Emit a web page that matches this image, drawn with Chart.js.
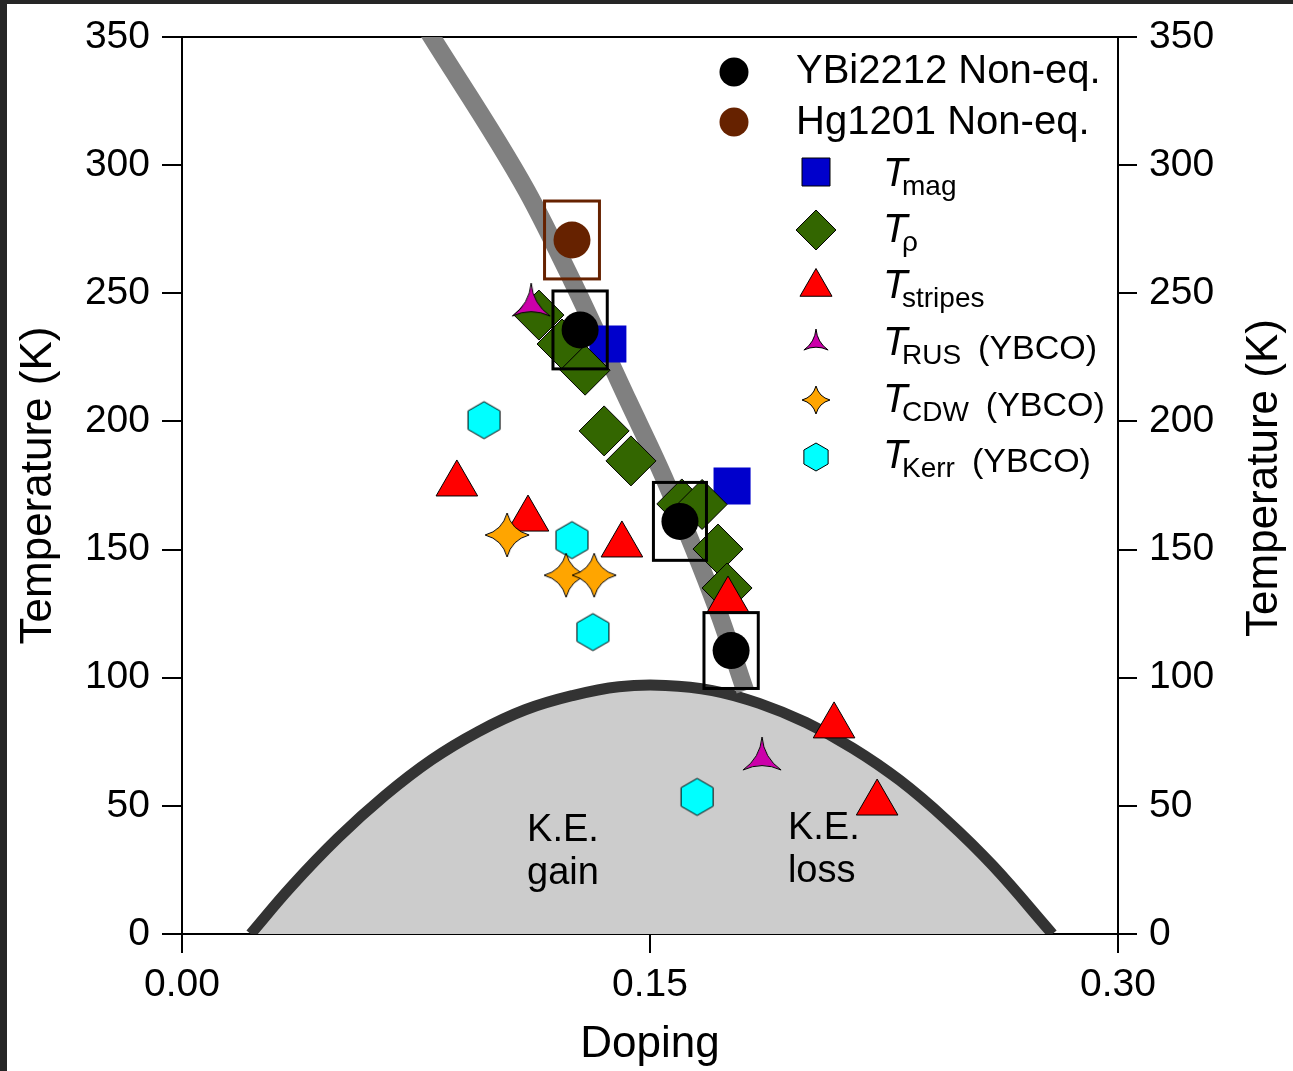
<!DOCTYPE html>
<html>
<head>
<meta charset="utf-8">
<script src="https://cdn.jsdelivr.net/npm/chart.js@4.4.1/dist/chart.umd.min.js"></script>
<style>
  html, body { margin: 0; padding: 0; background: #fff; }
  #wrap { position: relative; width: 1293px; height: 1071px; }
</style>
</head>
<body>
<div id="wrap"><canvas id="phase" width="1293" height="1071"></canvas></div>
<script>
// Phase diagram: characteristic temperatures vs doping, drawn with Chart.js.

// --- values ---
var ybiDoping = [0.1276, 0.1596, 0.1760];
var ybiTemp = [235.7, 161.0, 110.6];
var ybiDopErr = [0.0087, 0.0085, 0.0087];
var ybiTempErr = [15.2, 15.2, 14.8];

var hgDoping = [0.1250];
var hgTemp = [270.8];
var hgDopErr = [0.0088];
var hgTempErr = [15.2];

var magDoping = [0.1365, 0.1763];
var magTemp = [230.2, 174.8];

var rhoDoping = [0.1144, 0.1218, 0.1292, 0.1353, 0.1439, 0.1602, 0.1667, 0.1718, 0.1747];
var rhoTemp = [241.5, 230.2, 220.0, 196.3, 184.6, 167.8, 167.6, 150.2, 135.0];

var stripesDoping = [0.0881, 0.1109, 0.1410, 0.1750, 0.2090, 0.2228];
var stripesTemp = [175.6, 161.9, 151.8, 130.3, 81.2, 51.1];

var rusDoping = [0.1119, 0.1859];
var rusTemp = [245.4, 68.3];

var cdwDoping = [0.1042, 0.1231, 0.1321];
var cdwTemp = [155.7, 140.0, 140.0];

var kerrDoping = [0.0968, 0.1250, 0.1317, 0.1651];
var kerrTemp = [200.5, 153.7, 117.8, 53.5];

// superconducting dome (dark curve)
var domeDoping = [0.022, 0.035, 0.05, 0.065, 0.08, 0.095, 0.11, 0.125, 0.14, 0.155,
                  0.17, 0.185, 0.20, 0.215, 0.23, 0.245, 0.26, 0.279];
var domeTemp = [0, 18.5, 37.5, 54, 68, 79, 87.5, 93, 96.5, 97,
                95, 90, 82.5, 72.5, 60, 44.5, 26.5, 0];

// gray band (pseudogap line)
var bandDoping = [0.0785, 0.1105, 0.125, 0.143, 0.1545, 0.1718, 0.1805];
var bandTemp = [353, 290, 255, 208, 178, 126, 95];

var xTicks = [0, 0.15, 0.30];
var yTicks = [0, 50, 100, 150, 200, 250, 300, 350];

var legendNames = ['YBi2212 Non-eq.', 'Hg1201 Non-eq.', 'T', 'T', 'T', 'T', 'T', 'T'];
var legendSubs = ['', '', 'mag', 'ρ', 'stripes', 'RUS', 'CDW', 'Kerr'];
var legendNotes = ['', '', '', '', '', '(YBCO)', '(YBCO)', '(YBCO)'];

var noteLines = [['K.E.', 'gain'], ['K.E.', 'loss']];
var noteDoping = [0.1106, 0.1942];
var noteTemp = [36.3, 37.0];

// --- drawing ---
var FONT = '"Liberation Sans", Arial, Helvetica, sans-serif';
Chart.defaults.font.family = FONT;
Chart.defaults.color = '#000';

var COLORS = {
  ybi: '#000000', hg: '#662200', mag: '#0000cc', rho: '#336600',
  stripes: '#ff0000', rus: '#cc00aa', cdw: '#ffa500', kerr: '#00ffff'
};

function pairs(xs, ys) {
  return xs.map(function (v, i) { return { x: v, y: ys[i] }; });
}

// offscreen canvases for the marker shapes Chart.js lacks
function shapeCanvas(kind, r, fill) {
  var pad = 2;
  var size = Math.ceil(2 * r + 2 * pad);
  var c = document.createElement('canvas');
  c.width = size;
  c.height = size;
  var g = c.getContext('2d');
  var cx = size / 2, cy = size / 2, i, a, b, m;
  g.beginPath();
  if (kind === 'hex') {
    for (i = 0; i < 6; i++) {
      a = -Math.PI / 2 + i * Math.PI / 3;
      if (i === 0) g.moveTo(cx + r * Math.cos(a), cy + r * Math.sin(a));
      else g.lineTo(cx + r * Math.cos(a), cy + r * Math.sin(a));
    }
  } else {
    var n = kind === 'star3' ? 3 : 4;
    var pull = kind === 'star3' ? 0.1 : 0.3;
    for (i = 0; i < n; i++) {
      a = -Math.PI / 2 + i * 2 * Math.PI / n;
      b = a + 2 * Math.PI / n;
      m = a + Math.PI / n;
      if (i === 0) g.moveTo(cx + r * Math.cos(a), cy + r * Math.sin(a));
      g.quadraticCurveTo(cx + pull * r * Math.cos(m), cy + pull * r * Math.sin(m),
        cx + r * Math.cos(b), cy + r * Math.sin(b));
    }
  }
  g.closePath();
  g.fillStyle = fill;
  g.fill();
  g.lineWidth = 1;
  g.strokeStyle = '#000';
  g.stroke();
  return c;
}

var rusShape = shapeCanvas('star3', 22, COLORS.rus);
var cdwShape = shapeCanvas('star4', 22, COLORS.cdw);
var kerrShape = shapeCanvas('hex', 18.5, COLORS.kerr);

var legendStyles = ['circle', 'circle', 'rect', 'rectRot', 'triangle',
  shapeCanvas('star3', 14, COLORS.rus), shapeCanvas('star4', 14, COLORS.cdw), shapeCanvas('hex', 14, COLORS.kerr)];
var legendSizes = [14.5, 14.5, 14, 20, 18.5, 14, 14, 14];
var legendFills = [COLORS.ybi, COLORS.hg, COLORS.mag, COLORS.rho, COLORS.stripes, COLORS.rus, COLORS.cdw, COLORS.kerr];

function drawMarker(ctx, style, x, y, r, fill) {
  if (typeof style === 'object') {
    ctx.drawImage(style, x - style.width / 2, y - style.height / 2);
    return;
  }
  ctx.beginPath();
  if (style === 'circle') ctx.arc(x, y, r, 0, 2 * Math.PI);
  else if (style === 'rect') ctx.rect(x - r, y - r, 2 * r, 2 * r);
  else if (style === 'rectRot') {
    ctx.moveTo(x, y - r); ctx.lineTo(x + r, y); ctx.lineTo(x, y + r); ctx.lineTo(x - r, y); ctx.closePath();
  } else if (style === 'triangle') {
    ctx.moveTo(x, y - r); ctx.lineTo(x + r * 0.866, y + r / 2); ctx.lineTo(x - r * 0.866, y + r / 2); ctx.closePath();
  }
  ctx.fillStyle = fill;
  ctx.fill();
  if (style !== 'circle') {
    ctx.lineWidth = 1;
    ctx.strokeStyle = '#000';
    ctx.stroke();
  }
}

var framePlugin = {
  id: 'frame',
  beforeDraw: function (chart) {
    var ctx = chart.ctx;
    ctx.save();
    ctx.fillStyle = '#ffffff';
    ctx.fillRect(0, 0, chart.width, chart.height);
    ctx.fillStyle = '#262626';
    ctx.fillRect(0, 0, chart.width, 4);
    ctx.fillRect(0, 0, 7, chart.height);
    ctx.restore();
  }
};

// error rectangles around the non-equilibrium points, plus the K.E. notes
var boxPlugin = {
  id: 'errorBoxes',
  afterDatasetsDraw: function (chart) {
    var xs = chart.scales.x, ys = chart.scales.y, ctx = chart.ctx;
    ctx.save();
    ctx.lineWidth = 3;
    function drawSet(dop, tmp, dErr, tErr, color) {
      ctx.strokeStyle = color;
      for (var i = 0; i < dop.length; i++) {
        var l = xs.getPixelForValue(dop[i] - dErr[i]);
        var r = xs.getPixelForValue(dop[i] + dErr[i]);
        var t = ys.getPixelForValue(tmp[i] + tErr[i]);
        var b = ys.getPixelForValue(tmp[i] - tErr[i]);
        ctx.strokeRect(l, t, r - l, b - t);
      }
    }
    drawSet(hgDoping, hgTemp, hgDopErr, hgTempErr, COLORS.hg);
    drawSet(ybiDoping, ybiTemp, ybiDopErr, ybiTempErr, COLORS.ybi);

    ctx.fillStyle = '#000';
    ctx.font = '38px ' + FONT;
    ctx.textAlign = 'left';
    ctx.textBaseline = 'alphabetic';
    for (var k = 0; k < noteLines.length; k++) {
      var nx = xs.getPixelForValue(noteDoping[k]);
      var ny = ys.getPixelForValue(noteTemp[k]);
      for (var j = 0; j < noteLines[k].length; j++) {
        ctx.fillText(noteLines[k][j], nx, ny + j * 43);
      }
    }
    ctx.restore();
  }
};

var legendPlugin = {
  id: 'sketchLegend',
  afterDraw: function (chart) {
    var ctx = chart.ctx;
    var rowY = [72, 122, 172, 230, 287, 343, 400, 457];
    var baseY = [83, 134, 186, 242, 298, 355, 412, 468];
    ctx.save();
    for (var i = 0; i < legendNames.length; i++) {
      var mx = i < 2 ? 734 : 816;
      drawMarker(ctx, legendStyles[i], mx, rowY[i], legendSizes[i], legendFills[i]);
      ctx.fillStyle = '#000';
      ctx.textAlign = 'left';
      ctx.textBaseline = 'alphabetic';
      if (!legendSubs[i]) {
        ctx.font = '40px ' + FONT;
        ctx.fillText(legendNames[i], 796, baseY[i]);
        continue;
      }
      ctx.font = 'italic 40px ' + FONT;
      ctx.fillText(legendNames[i], 883, baseY[i]);
      ctx.font = '28px ' + FONT;
      ctx.fillText(legendSubs[i], 902, baseY[i] + 9);
      var subEnd = 902 + ctx.measureText(legendSubs[i]).width;
      if (legendNotes[i]) {
        ctx.font = '34px ' + FONT;
        ctx.fillText(legendNotes[i], subEnd + 17, baseY[i] + 4);
      }
    }
    // right-hand axis title, reading bottom to top like the left one
    ctx.translate(1265, 478);
    ctx.rotate(-Math.PI / 2);
    ctx.font = '44px ' + FONT;
    ctx.textAlign = 'center';
    ctx.textBaseline = 'middle';
    ctx.fillText('Temperature (K)', 0, 0);
    ctx.restore();
  }
};

function scatterSet(label, xs, ys, color, style, radius, order, border) {
  return {
    label: label,
    data: pairs(xs, ys),
    xAxisID: 'x',
    yAxisID: 'y',
    backgroundColor: color,
    borderColor: '#000',
    borderWidth: border,
    pointStyle: style,
    pointRadius: radius,
    order: order
  };
}

var tickFont = { size: 39 };

new Chart(document.getElementById('phase').getContext('2d'), {
  type: 'scatter',
  data: {
    datasets: [
      scatterSet('YBi2212 Non-eq.', ybiDoping, ybiTemp, COLORS.ybi, 'circle', 18.5, 1, 0),
      scatterSet('Hg1201 Non-eq.', hgDoping, hgTemp, COLORS.hg, 'circle', 18.5, 2, 0),
      scatterSet('T_CDW', cdwDoping, cdwTemp, COLORS.cdw, cdwShape, 22, 3, 1),
      scatterSet('T_Kerr', kerrDoping, kerrTemp, COLORS.kerr, kerrShape, 18.5, 4, 1),
      scatterSet('T_RUS', rusDoping, rusTemp, COLORS.rus, rusShape, 22, 5, 1),
      scatterSet('T_stripes', stripesDoping, stripesTemp, COLORS.stripes, 'triangle', 24, 6, 1),
      scatterSet('T_rho', rhoDoping, rhoTemp, COLORS.rho, 'rectRot', 25, 7, 1),
      scatterSet('T_mag', magDoping, magTemp, COLORS.mag, 'rect', 26.2, 8, 0),
      {
        type: 'line',
        label: 'band',
        data: pairs(bandDoping, bandTemp),
        xAxisID: 'x',
        yAxisID: 'y',
        borderColor: '#808080',
        borderWidth: 18,
        pointRadius: 0,
        fill: false,
        cubicInterpolationMode: 'monotone',
        clip: 0,
        order: 9
      },
      {
        type: 'line',
        label: 'dome',
        data: pairs(domeDoping, domeTemp),
        xAxisID: 'x',
        yAxisID: 'y',
        borderColor: '#333333',
        backgroundColor: '#cccccc',
        borderWidth: 11,
        pointRadius: 0,
        fill: 'origin',
        tension: 0.4,
        order: 10
      }
    ]
  },
  options: {
    responsive: false,
    animation: false,
    events: [],
    layout: { padding: { top: 37, left: 0, right: 0, bottom: 0 } },
    plugins: { legend: { display: false }, tooltip: { enabled: false } },
    scales: {
      x: {
        type: 'linear',
        position: 'bottom',
        min: 0,
        max: 0.3,
        afterBuildTicks: function (s) { s.ticks = xTicks.map(function (v) { return { value: v }; }); },
        afterFit: function (s) { s.height = 137; },
        ticks: {
          font: tickFont,
          color: '#000',
          padding: 9,
          maxRotation: 0,
          autoSkip: false,
          callback: function (v) { return Number(v).toFixed(2); }
        },
        grid: { drawOnChartArea: false, drawTicks: true, tickLength: 19, color: '#000', lineWidth: 2 },
        border: { display: true, color: '#000', width: 2 },
        title: { display: true, text: 'Doping', font: { size: 44 }, color: '#000', padding: { top: 0, bottom: 0 } }
      },
      xTop: {
        type: 'linear',
        position: 'top',
        min: 0,
        max: 0.3,
        afterFit: function (s) { s.height = 0; },
        ticks: { display: false },
        grid: { display: false },
        border: { display: true, color: '#000', width: 2 }
      },
      y: {
        type: 'linear',
        position: 'left',
        min: 0,
        max: 350,
        afterBuildTicks: function (s) { s.ticks = yTicks.map(function (v) { return { value: v }; }); },
        afterFit: function (s) { s.width = 182; },
        ticks: { font: tickFont, color: '#000', padding: 12, autoSkip: false },
        grid: { drawOnChartArea: false, drawTicks: true, tickLength: 20, color: '#000', lineWidth: 2 },
        border: { display: true, color: '#000', width: 2 },
        title: { display: true, text: 'Temperature (K)', font: { size: 44 }, color: '#000', padding: { top: 12.6, bottom: 0 } }
      },
      y2: {
        type: 'linear',
        position: 'right',
        min: 0,
        max: 350,
        afterBuildTicks: function (s) { s.ticks = yTicks.map(function (v) { return { value: v }; }); },
        afterFit: function (s) { s.width = 175; },
        ticks: { font: tickFont, color: '#000', padding: 12, autoSkip: false },
        grid: { drawOnChartArea: false, drawTicks: true, tickLength: 19, color: '#000', lineWidth: 2 },
        border: { display: true, color: '#000', width: 2 }
      }
    }
  },
  plugins: [framePlugin, boxPlugin, legendPlugin]
});
</script>
</body>
</html>
